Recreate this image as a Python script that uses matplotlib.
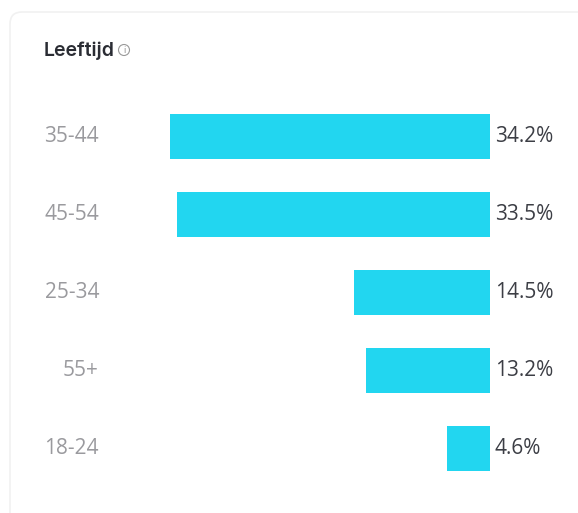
import matplotlib
matplotlib.use("Agg")
import matplotlib.pyplot as plt
from matplotlib.patches import FancyBboxPatch, Circle

ages = ["35-44", "45-54", "25-34", "55+", "18-24"]
shares = [34.2, 33.5, 14.5, 13.2, 4.6]
labels = ["34.2%", "33.5%", "14.5%", "13.2%", "4.6%"]

plt.rcParams["font.family"] = ["Open Sans", "DejaVu Sans"]

W, H = 578, 513
fig = plt.figure(figsize=(W / 100, H / 100), dpi=100)

# card behind everything, in pixel coords
bg = fig.add_axes([0, 0, 1, 1])
bg.set_xlim(0, W)
bg.set_ylim(H, 0)
bg.axis("off")
bg.add_patch(FancyBboxPatch((10, 12), 640, 600, boxstyle="round,pad=0,rounding_size=12",
                            fc="white", ec="#f1f1f1", lw=1.2))
bg.text(44, 51, "Leeftijd", fontsize=14, fontweight="semibold", family=["Inter", "DejaVu Sans"],
        color="#2a2c33", va="center")
bg.add_patch(Circle((124, 50), 5.5, fc="none", ec="#999999", lw=0.8))
bg.text(124, 50.5, "i", fontsize=6.5, color="#888888", ha="center", va="center")

# bars grow leftward from x=490, 320px for 34.2%
ax = fig.add_axes([0, 0, 490 / W, 1 - 97 / H])
ax.patch.set_alpha(0)
ax.set_xlim(490 / (320 / 34.2), 0)
ax.set_ylim(4.5 + (416 / 78 - 5), -0.5)
ax.barh(range(len(ages)), shares, height=45 / 78, color="#22d6f0")
for i, lab in enumerate(labels):
    ax.text(-0.5, i, lab, fontsize=15, color="#3c3e45", va="center", ha="left")
ax.set_yticks([])
ax.set_xticks([])
for s in ax.spines.values():
    s.set_visible(False)
for i, age in enumerate(ages):
    ax.annotate(age, xy=(0, i), xycoords=ax.get_yaxis_transform(), xytext=(99, 0),
                textcoords="offset pixels", fontsize=15, color="#9a9a9e", va="center", ha="right")

fig.savefig("out.png", dpi=100)
